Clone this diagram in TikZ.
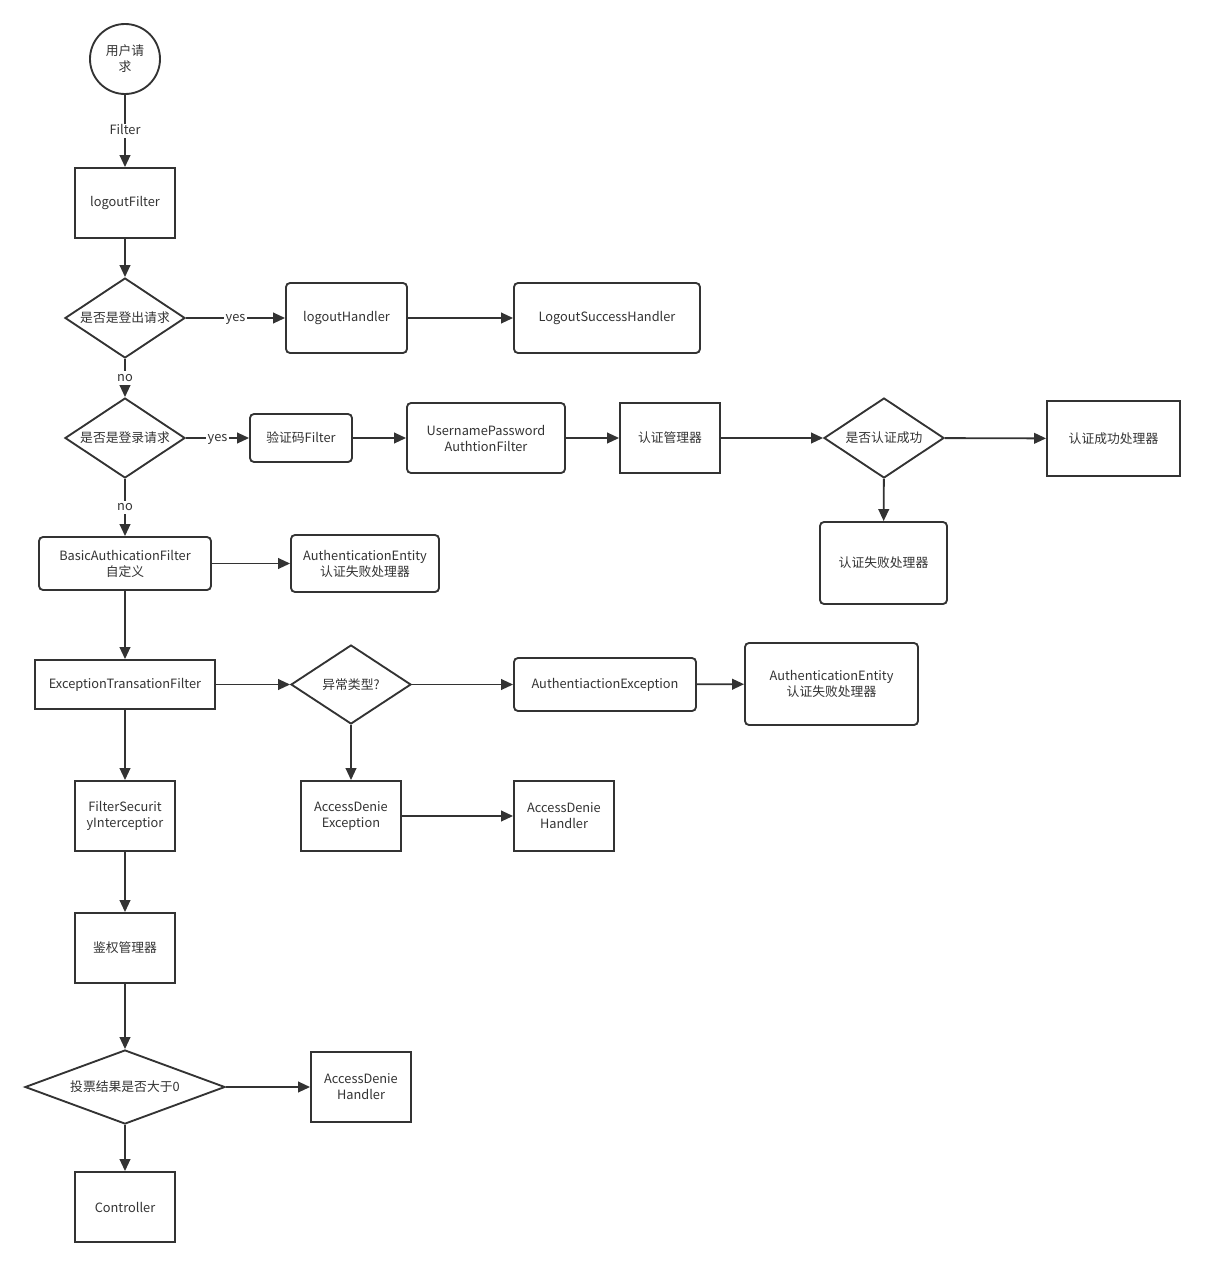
\documentclass[tikz,border=0pt]{standalone}
\usepackage{fontspec}
\setmainfont{Noto Sans CJK SC}
\usetikzlibrary{shapes.geometric,arrows.meta}
\definecolor{ink}{HTML}{333333}
\def\px{0.75pt}
\tikzset{
  base/.style={draw=ink, line width=1.4pt, text=ink, font=\fontsize{9.6}{12}\selectfont, align=center, inner sep=0pt},
  sq/.style={base, rectangle},
  rd/.style={base, rectangle, rounded corners=3pt},
  dia/.style={base, diamond, shape aspect=#1},
  dia/.default=1.5,
  sz/.style 2 args={minimum width=#1*\px, minimum height=#2*\px},
  arr/.style={draw=ink, line width=1.4pt, -{Triangle[length=9pt,width=8pt]}},
  lbl/.style={fill=white, text=ink, font=\fontsize{9.6}{12}\selectfont, inner sep=1pt, text height=6.5pt, text depth=1.5pt},
}
\begin{document}
\begin{tikzpicture}[x=0.75pt,y=-0.75pt]
\useasboundingbox (0,0) rectangle (1205,1267);
\node[base, circle, minimum size=70*\px] (start) at (125,59) {用户请\\求};
\node[sq, sz={100}{70}] (lf) at (125,203) {logoutFilter};
\node[dia, sz={120}{80}] (d1) at (125,318) {是否是登出请求};
\node[rd, sz={121}{70}] (lh) at (346.5,318) {logoutHandler};
\node[rd, sz={186}{70}] (lsh) at (607,318) {LogoutSuccessHandler};
\node[dia, sz={120}{80}] (d2) at (125,438) {是否是登录请求};
\node[rd, sz={102}{48}] (yzm) at (301,438) {验证码Filter};
\node[rd, sz={158}{70}] (upf) at (486,438) {UsernamePassword\\AuthtionFilter};
\node[sq, sz={100}{70}] (rzgl) at (670,438) {认证管理器};
\node[dia, sz={120}{80}] (d3) at (884,438) {是否认证成功};
\node[sq, sz={133}{75}] (rzcg) at (1113.5,438.5) {认证成功处理器};
\node[rd, sz={127}{82}] (rzsb) at (883.5,563) {认证失败处理器};
\node[rd, sz={172}{53}] (basic) at (125,563.5) {BasicAuthicationFilter\\自定义};
\node[rd, sz={148}{57}] (aee1) at (365,563.5) {AuthenticationEntity\\认证失败处理器};
\node[sq, sz={180}{49}] (etf) at (125,684.5) {ExceptionTransationFilter};
\node[dia, sz={120}{79}] (d4) at (351,684.5) {异常类型?};
\node[rd, sz={182}{53}] (ae) at (605,684.5) {AuthentiactionException};
\node[rd, sz={173}{82}] (aee2) at (831.5,684) {AuthenticationEntity\\认证失败处理器};
\node[sq, sz={100}{70}] (fsi) at (125,816) {FilterSecurit\\yInterceptior};
\node[sq, sz={100}{70}] (ade) at (351,816) {AccessDenie\\Exception};
\node[sq, sz={100}{70}] (adh1) at (564,816) {AccessDenie\\Handler};
\node[sq, sz={100}{70}] (jq) at (125,948) {鉴权管理器};
\node[dia=2.7, sz={200}{74}] (d5) at (125,1087) {投票结果是否大于0};
\node[sq, sz={100}{70}] (adh2) at (361,1087) {AccessDenie\\Handler};
\node[sq, sz={100}{70}] (ctrl) at (125,1207) {Controller};

\draw[arr] (start) -- node[lbl] {Filter} (lf);
\draw[arr] (lf) -- (d1);
\draw[arr] (d1) -- node[lbl] {yes} (lh);
\draw[arr] (lh) -- (lsh);
\draw[arr] (d1) -- node[lbl] {no} (d2);
\draw[arr] (d2) -- node[lbl] {yes} (yzm);
\draw[arr] (yzm) -- (upf);
\draw[arr] (upf) -- (rzgl);
\draw[arr] (rzgl) -- (d3);
\draw[arr] (d3) -- (rzcg);
\draw[arr] (d3) -- (rzsb);
\draw[arr] (d2) -- node[lbl] {no} (basic);
\draw[arr] (basic) -- (aee1);
\draw[arr] (basic) -- (etf);
\draw[arr] (etf) -- (d4);
\draw[arr] (d4) -- (ae);
\draw[arr] (ae) -- (aee2);
\draw[arr] (d4) -- (ade);
\draw[arr] (ade) -- (adh1);
\draw[arr] (etf) -- (fsi);
\draw[arr] (fsi) -- (jq);
\draw[arr] (jq) -- (d5);
\draw[arr] (d5) -- (adh2);
\draw[arr] (d5) -- (ctrl);
\end{tikzpicture}
\end{document}
